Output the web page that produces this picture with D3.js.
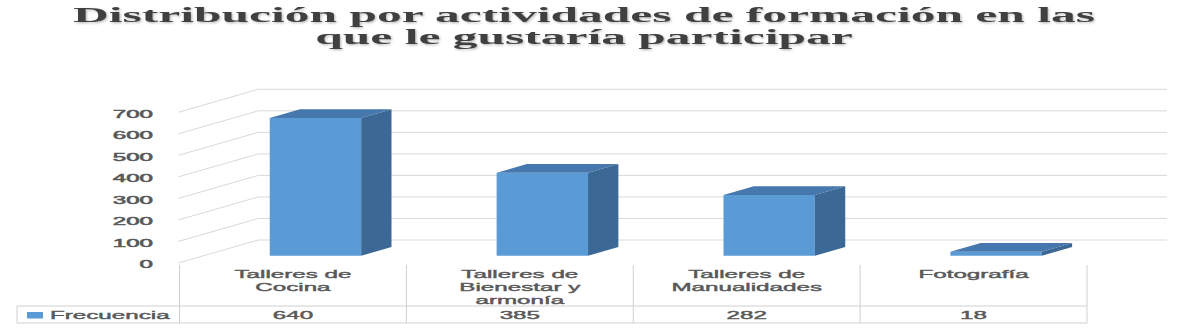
<!DOCTYPE html>
<html>
<head>
<meta charset="utf-8">
<script src="https://cdn.jsdelivr.net/npm/d3@7"></script>
<style>
  html, body { margin: 0; padding: 0; background: #fff; }
  svg { display: block; }
</style>
</head>
<body>
<svg id="chart" width="1188" height="329"></svg>
<script>
// Chart data
const titleLines = ["Distribución por actividades de formación en las", "que le gustaría participar"];
const categories = ["Talleres de\nCocina", "Talleres de\nBienestar y\narmonía", "Talleres de\nManualidades", "Fotografía"];
const values = [640, 385, 282, 18];
const seriesName = "Frecuencia";
const yTicks = [0, 100, 200, 300, 400, 500, 600, 700];

const svg = d3.select("#chart");

// Oblique 3D projection: depth d in [0,1] shifts right and up
const DEPTH_X = 80, DEPTH_Y = -23;
const proj = (x, y, d) => [x + DEPTH_X * d, y + DEPTH_Y * d];

const y = d3.scaleLinear().domain([0, 700]).range([263, 112.3]);
const x = d3.scaleBand().domain(categories).range([179.5, 1087]).padding(0);

const textColor = "#595959";
const gridColor = "#d9d9d9";
const tableColor = "#d0d0d0";
const BODY_SX = 2.2;

// Shadow for the title
const defs = svg.append("defs");
const f = defs.append("filter").attr("id", "tshadow").attr("x", "-5%").attr("y", "-20%").attr("width", "110%").attr("height", "150%");
f.append("feDropShadow").attr("dx", 1.2).attr("dy", 1.2).attr("stdDeviation", 0.8)
  .attr("flood-color", "#000").attr("flood-opacity", 0.28);

// Title
const title = svg.append("g").attr("filter", "url(#tshadow)");
const titleBaselines = [21.7, 43.5];
const titleTexts = title.selectAll("text").data(titleLines).join("text")
  .attr("text-anchor", "middle")
  .attr("font-family", "'Liberation Serif', 'DejaVu Serif', serif")
  .attr("font-weight", "bold")
  .attr("font-size", 22)
  .attr("fill", "#404040")
  .text(d => d);
const w0 = titleTexts.nodes()[0].getComputedTextLength();
const titleSX = 1022 / w0;
titleTexts.attr("transform", (d, i) => `translate(584,${titleBaselines[i]}) scale(${titleSX},1)`);

// Gridlines: left wall diagonal then along the back wall
const xLeft = x.range()[0] - 1.2;
const xRight = x.range()[1];
svg.append("g").selectAll("path").data(yTicks).join("path")
  .attr("fill", "none")
  .attr("stroke", gridColor)
  .attr("stroke-width", 1)
  .attr("d", v => {
    const a = [xLeft, y(v)];
    const b = proj(xLeft, y(v), 1);
    const c = proj(xRight, y(v), 1);
    return `M${a[0]},${a[1]}L${b[0]},${b[1]}L${c[0]},${c[1]}`;
  });

// Y axis labels
const yAxis = d3.axisLeft(y).tickValues(yTicks).tickSize(0).tickPadding(0);
const yg = svg.append("g").attr("transform", "translate(153,0)").call(yAxis);
yg.select(".domain").remove();
yg.selectAll("text")
  .attr("font-family", "'Liberation Sans', Arial, sans-serif")
  .attr("font-size", 10.5)
  .attr("fill", textColor)
  .attr("stroke", textColor)
  .attr("stroke-width", 0.5)
  .attr("x", 0)
  .attr("dy", "0.36em")
  .attr("transform", "translate(0,1) scale(2.3,1)");

// 3D bars
const D1 = 0.317, D2 = 0.696;
const barColors = { front: "#5b9bd5", top: "#4677ad", side: "#3b6894" };
const bars = svg.append("g").selectAll("g").data(categories.map((c, i) => ({ c, v: values[i] }))).join("g");
const poly = pts => "M" + pts.map(p => p.join(",")).join("L") + "Z";
bars.each(function (d) {
  const g = d3.select(this);
  const bx0 = x(d.c) + x.bandwidth() * 0.286;
  const bx1 = bx0 + x.bandwidth() * 0.403;
  const y0 = y(0), yv = y(d.v);
  g.append("path").attr("fill", barColors.front)
    .attr("d", poly([proj(bx0, y0, D1), proj(bx0, yv, D1), proj(bx1, yv, D1), proj(bx1, y0, D1)]));
  g.append("path").attr("fill", barColors.top)
    .attr("d", poly([proj(bx0, yv, D1), proj(bx1, yv, D1), proj(bx1, yv, D2), proj(bx0, yv, D2)]));
  g.append("path").attr("fill", barColors.side)
    .attr("d", poly([proj(bx1, y0, D1), proj(bx1, yv, D1), proj(bx1, yv, D2), proj(bx1, y0, D2)]));
});

// Data table
const tableTop = 265, rowLine = 306, tableBottom = 323, legendLeft = 17;
const tg = svg.append("g").attr("stroke", tableColor).attr("stroke-width", 1).attr("fill", "none");
const colEdges = [x.range()[0]].concat(categories.map(c => x(c) + x.bandwidth()));
tg.selectAll("line.v").data(colEdges).join("line")
  .attr("x1", d => d).attr("x2", d => d)
  .attr("y1", tableTop).attr("y2", tableBottom);
tg.append("line").attr("x1", legendLeft).attr("x2", legendLeft).attr("y1", rowLine).attr("y2", tableBottom);
tg.append("line").attr("x1", legendLeft).attr("x2", xRight).attr("y1", rowLine).attr("y2", rowLine);
tg.append("line").attr("x1", legendLeft).attr("x2", xRight).attr("y1", tableBottom).attr("y2", tableBottom);

const bodyText = sel => sel
  .attr("font-family", "'Liberation Sans', Arial, sans-serif")
  .attr("font-size", 11)
  .attr("fill", textColor)
  .attr("stroke", textColor)
  .attr("stroke-width", 0.4);

// Category labels
const cat = svg.append("g").selectAll("text").data(categories).join("text")
  .call(bodyText)
  .attr("text-anchor", "middle")
  .attr("transform", d => `translate(${x(d) + x.bandwidth() / 2},277.7) scale(${BODY_SX},1)`);
cat.selectAll("tspan").data(d => d.split("\n")).join("tspan")
  .attr("x", 0)
  .attr("y", (d, i) => i * 13)
  .text(d => d);

// Value row
svg.append("g").selectAll("text").data(categories.map((c, i) => ({ c, v: values[i] }))).join("text")
  .call(bodyText)
  .attr("text-anchor", "middle")
  .attr("transform", d => `translate(${x(d.c) + x.bandwidth() / 2},319) scale(${BODY_SX},1)`)
  .text(d => d.v);

// Legend key
svg.append("rect").attr("x", 27).attr("y", 312).attr("width", 16).attr("height", 6.5).attr("fill", barColors.front);
svg.append("text").call(bodyText)
  .attr("transform", `translate(50,319) scale(${BODY_SX},1)`)
  .text(seriesName);
</script>
</body>
</html>
